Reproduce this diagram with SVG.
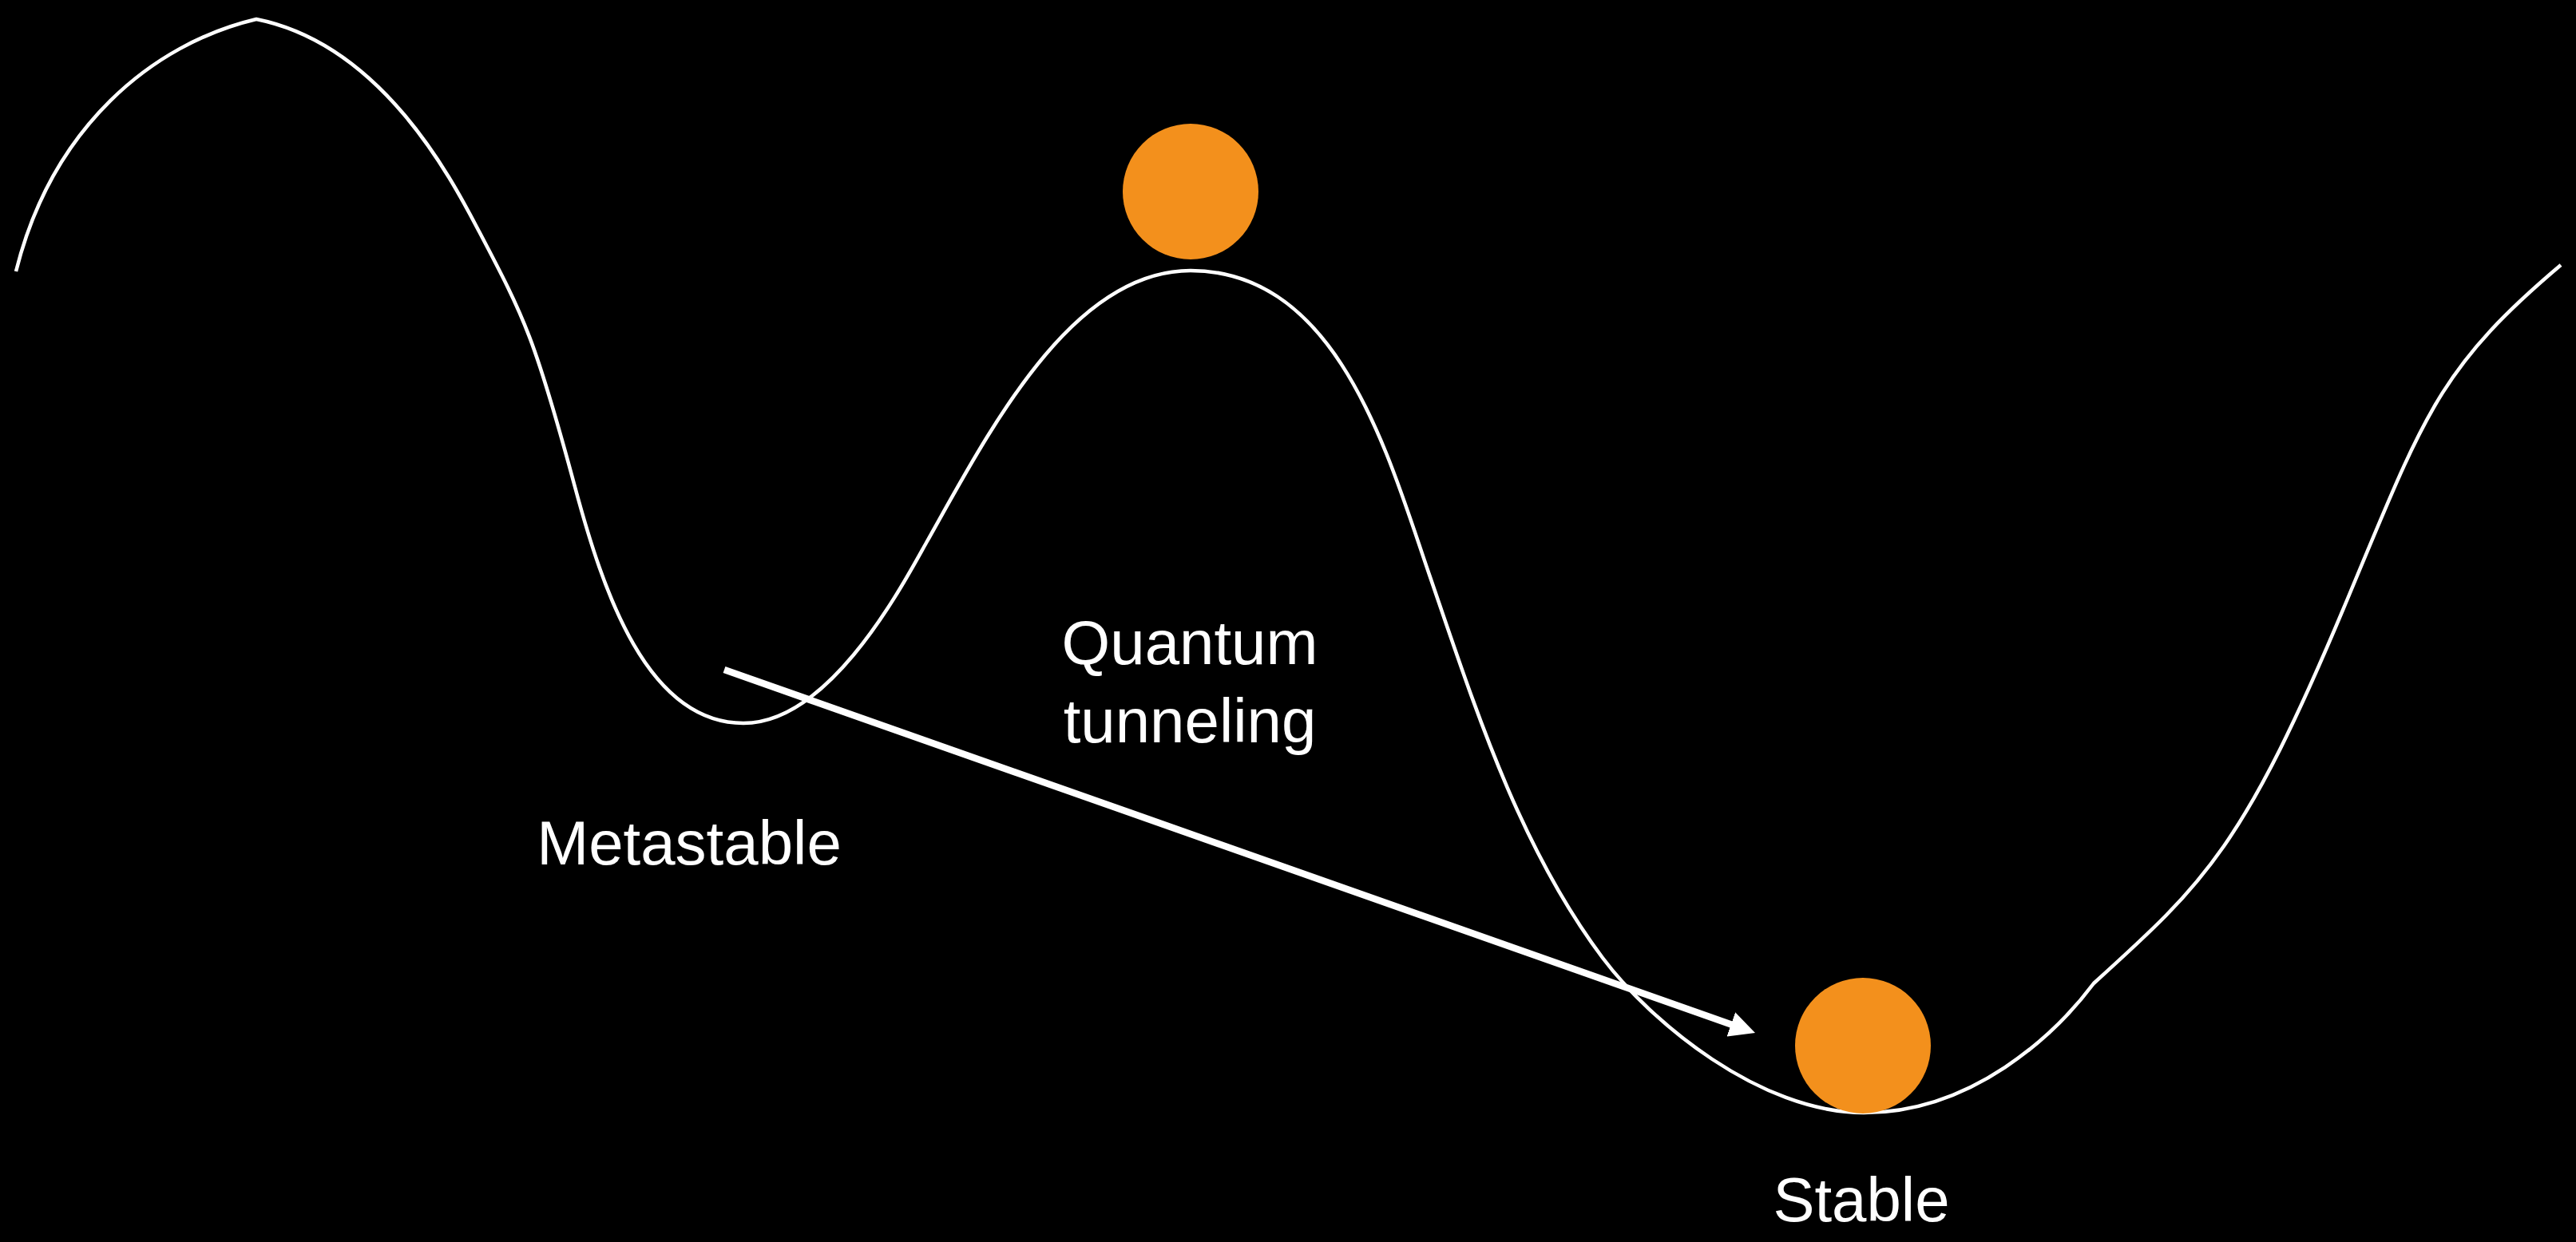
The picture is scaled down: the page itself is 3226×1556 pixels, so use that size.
<svg xmlns="http://www.w3.org/2000/svg" width="3226" height="1556" viewBox="0 0 3226 1556">
<style>
.curve{fill:none;stroke:#ffffff;stroke-width:4.5;stroke-linejoin:miter}
.ball{fill:#F3901C}
.label{font-family:"Liberation Sans",Arial,Helvetica,sans-serif;font-size:78px;fill:#ffffff;text-anchor:middle}
.arrow{fill:none;stroke:#ffffff;stroke-width:8.5;stroke-linecap:butt}
</style>
<defs>
<marker id="head" markerUnits="userSpaceOnUse" markerWidth="32" markerHeight="32" viewBox="0 0 32 32" refX="4" refY="16" orient="auto">
<path d="M0,0 L32,16 L0,32 Z" fill="#ffffff"/>
</marker>
</defs>
<rect width="3226" height="1556" fill="#000000"/>
<g id="landscape">
<path class="curve" d="M20,340 C65,160 190,55 321,24
C480,56 567.4,228 600,290
C657.5,399.1 670.6,426.5 720,610
C755.1,740.4 810,906 931,906
C1040,906 1130.6,732.2 1160,680
C1238.4,540.8 1341,339 1491,339
C1675,339 1738,568.6 1790,720
C1846.9,885.6 1902,1060 2007,1200
C2067,1280 2204,1394 2334,1394
C2470,1394 2574,1296 2622,1232
C2762.4,1104.9 2810.3,1061 2940,750
C3036.25,519.25 3054.2,461 3207,332"/>
</g>
<g id="connectors">
<path class="arrow" d="M907,839 L2171.6,1284.7" marker-end="url(#head)"/>
</g>
<g id="ball-top">
<circle class="ball" cx="1491" cy="240" r="85"/>
</g>
<g id="ball-bottom">
<circle class="ball" cx="2333" cy="1310" r="85"/>
</g>
<g id="label-tunneling">
<text class="label" x="1490" y="832">Quantum</text>
<text class="label" x="1490" y="930">tunneling</text>
</g>
<g id="label-metastable">
<text class="label" x="863" y="1083">Metastable</text>
</g>
<g id="label-stable">
<text class="label" x="2331" y="1530">Stable</text>
</g>
</svg>
